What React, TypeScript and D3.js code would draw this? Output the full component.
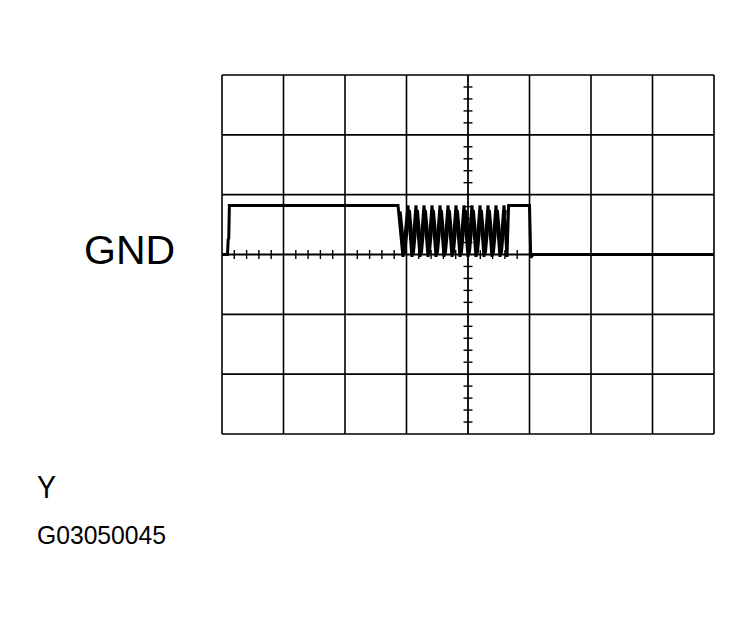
import React from "react";
import * as d3 from "d3";

// Graticule: 8 horizontal divisions, 6 vertical divisions (±3 around GND)
const xDivisions = [0, 1, 2, 3, 4, 5, 6, 7, 8];
const yDivisions = [-3, -2, -1, 0, 1, 2, 3];

// Trace (time in divisions, voltage in divisions above GND)
const traceT = [
  0, 0.09, 0.1, 0.11, 0.12,
  2.84, 2.862, 2.943, 3.024, 3.089, 3.154, 3.22, 3.285, 3.35, 3.415, 3.48,
  3.545, 3.61, 3.675, 3.74, 3.805, 3.87, 3.935, 4.0, 4.065, 4.13, 4.195,
  4.26, 4.325, 4.39, 4.455, 4.52, 4.585, 4.634, 4.66,
  4.99, 5.0, 5.02, 5.06, 8,
];
const traceV = [
  0, 0, 0.25, 0.27, 0.82,
  0.82, 0.82, -0.04, 0.82, -0.04, 0.82, -0.04, 0.82, -0.04, 0.82, -0.04,
  0.82, -0.04, 0.82, -0.04, 0.82, -0.04, 0.82, -0.04, 0.82, -0.04, 0.82,
  -0.04, 0.82, -0.04, 0.82, -0.04, 0.82, -0.04, 0.82,
  0.82, 0.82, -0.05, 0, 0,
];
// Overlapping second sweep of the burst (ghost trace)
const echoT = [
  2.9, 2.97, 3.05, 3.115, 3.18, 3.245, 3.31, 3.375, 3.44, 3.505, 3.57,
  3.635, 3.7, 3.765, 3.83, 3.895, 3.96, 4.025, 4.09, 4.155, 4.22, 4.285,
  4.35, 4.415, 4.48, 4.545, 4.61,
];
const echoV = [
  0.72, 0.02, 0.74, 0.02, 0.74, 0.02, 0.74, 0.02, 0.74, 0.02, 0.74,
  0.02, 0.74, 0.02, 0.74, 0.02, 0.74, 0.02, 0.74, 0.02, 0.74, 0.02,
  0.74, 0.02, 0.74, 0.02, 0.74,
];

const labelGnd = "GND";
const labelY = "Y";
const labelCode = "G03050045";

const X0 = 222, X1 = 714, Y0 = 75, Y1 = 434;

export default function App() {
  const x = d3.scaleLinear().domain([0, 8]).range([X0, X1]);
  const y = d3.scaleLinear().domain([-3, 3]).range([Y1, Y0]);

  const minorX = d3
    .range(0, 5.0001, 0.2)
    .filter((v) => Math.abs(v - Math.round(v)) > 0.01);
  const minorY = d3
    .range(-3, 3.0001, 0.2)
    .filter((v) => Math.abs(v - Math.round(v)) > 0.01);

  const pts: [number, number][] = traceT.map((t, i) => [t, traceV[i]]);
  const echo: [number, number][] = echoT.map((t, i) => [t, echoV[i]]);
  const line = d3
    .line<[number, number]>()
    .x((d) => x(d[0]))
    .y((d) => y(d[1]));

  const font = "Liberation Sans, Arial, Helvetica, sans-serif";

  return (
    <svg
      width={752}
      height={618}
      style={{ position: "absolute", left: 0, top: 0, background: "#fff" }}
    >
      <rect x={0} y={0} width={752} height={618} fill="#fff" />
      {xDivisions.map((d) => (
        <line
          key={"vx" + d}
          x1={x(d)}
          x2={x(d)}
          y1={Y0}
          y2={Y1}
          stroke="#000"
          strokeWidth={d === 4 ? 1.8 : 1.6}
        />
      ))}
      {yDivisions.map((d) => (
        <line
          key={"hy" + d}
          x1={X0}
          x2={X1}
          y1={y(d)}
          y2={y(d)}
          stroke="#000"
          strokeWidth={d === 0 ? 2 : 1.6}
        />
      ))}
      {minorX.map((d) => (
        <line
          key={"tx" + d}
          x1={x(d)}
          x2={x(d)}
          y1={y(0) - 4.5}
          y2={y(0) + 4.5}
          stroke="#000"
          strokeWidth={1.4}
        />
      ))}
      {minorY.map((d) => (
        <line
          key={"ty" + d}
          x1={x(4) - 4.5}
          x2={x(4) + 4.5}
          y1={y(d)}
          y2={y(d)}
          stroke="#000"
          strokeWidth={1.4}
        />
      ))}
      <path
        d={line(echo) || ""}
        fill="none"
        stroke="#000"
        strokeWidth={2.6}
        strokeLinejoin="miter"
        strokeMiterlimit={2}
      />
      <path
        d={line(pts) || ""}
        fill="none"
        stroke="#000"
        strokeWidth={3}
        strokeLinejoin="miter"
        strokeMiterlimit={2}
      />
      <text x={84} y={264} fontFamily={font} fontSize={41} fill="#000">
        {labelGnd}
      </text>
      <text
        x={37}
        y={498}
        fontFamily={font}
        fontSize={31}
        fill="#000"
        textLength={19}
        lengthAdjust="spacingAndGlyphs"
      >
        {labelY}
      </text>
      <text
        x={37}
        y={544}
        fontFamily={font}
        fontSize={26}
        fill="#000"
        textLength={129}
        lengthAdjust="spacingAndGlyphs"
      >
        {labelCode}
      </text>
    </svg>
  );
}
